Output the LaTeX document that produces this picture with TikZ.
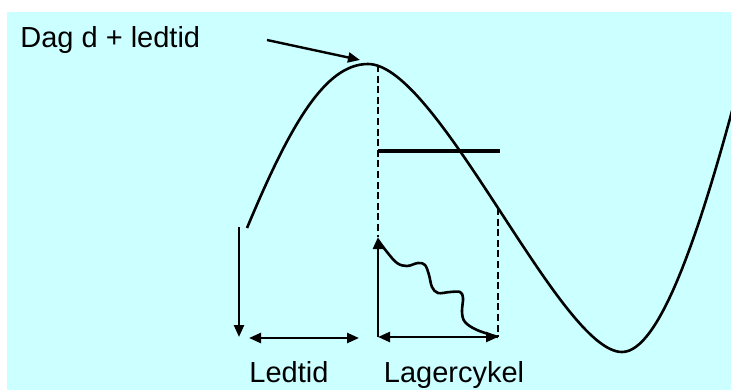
\documentclass[tikz,border=0pt]{standalone}
\usepackage{fontspec}
\setmainfont{Liberation Sans}
\usepackage{tikz}
\usetikzlibrary{arrows.meta}
\definecolor{sky}{HTML}{CCFFFF}
\tikzset{
  lbl/.style={font=\fontsize{14.5}{17}\selectfont,inner sep=0pt},
  arr/.style={-{Triangle[length=6pt,width=5pt]},line width=1.2pt},
  darr/.style={{Triangle[length=6pt,width=5pt]}-{Triangle[length=6pt,width=5pt]},line width=1.2pt},
  guide/.style={dash pattern=on 3.5pt off 1.8pt,line width=1.2pt},
  demand/.style={line width=1.3pt,line join=round},
}

\begin{document}
\begin{tikzpicture}[x=0.5pt,y=-0.5pt]
\useasboundingbox (0,0) rectangle (731,390);
\fill[sky] (7,12) rectangle (731,390);
% labels
\node[lbl,anchor=base west] (dag) at (20,47) {Dag d + ledtid};
\node[lbl,anchor=base] (led) at (289,382) {Ledtid};
\node[lbl,anchor=base] (lag) at (454,382) {Lagercykel};
% points
\coordinate (ptr) at (267,40);
\coordinate (peak) at (360,60);
\coordinate (top) at (378,65);
\coordinate (stock) at (378,237);
\coordinate (base) at (378,337);
\coordinate (barL) at (378,151);
\coordinate (barR) at (500,151);
\coordinate (cyc) at (498,208);
\coordinate (cycb) at (498,337);
\coordinate (drop) at (239,227);
\coordinate (dropb) at (239,337);
\coordinate (la) at (249,338);
\coordinate (lb) at (359,338);
% demand curve
\begin{scope}
\clip (7,12) rectangle (731,390);
\draw[demand] (247,228) .. controls (290,125) and (325,64) .. (368,64)
  .. controls (438,64) and (560,352) .. (622,352)
  .. controls (660,352) and (700,230) .. (735,100);
\end{scope}
\draw[arr] (ptr) -- (peak);
\draw[guide] (top) -- (stock);
\draw[arr] (base) -- (stock);
\draw[line width=1.8pt] (barL) -- (barR);
\draw[guide] (cyc) -- (cycb);
\draw[arr] (drop) -- (dropb);
\draw[darr] (la) -- (lb);
\draw[darr] (base) -- (cycb);
% stock level
\draw[demand] plot[smooth,tension=0.6] coordinates {(378,240) (387,252) (397,263)
  (407,266) (418,263) (425,265) (429,275) (432,287) (438,293) (450,292) (460,292)
  (463,298) (462,312) (465,322) (477,330) (498,337)};
\end{tikzpicture}
\end{document}
